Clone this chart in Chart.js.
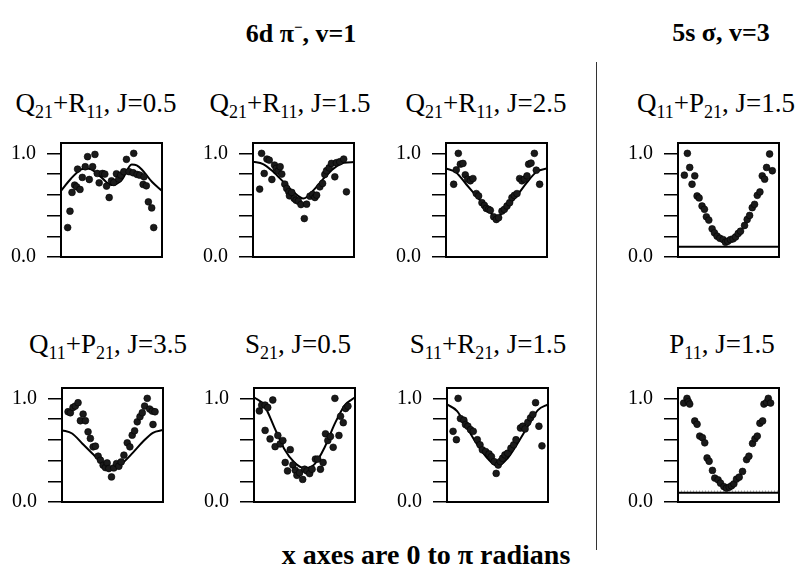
<!DOCTYPE html>
<html><head><meta charset="utf-8">
<script src="https://cdn.jsdelivr.net/npm/chart.js@4/dist/chart.umd.min.js"></script>
<style>
body{margin:0;background:#fff;width:807px;height:585px;position:relative;overflow:hidden;font-family:"Liberation Serif","Times New Roman",serif;color:#000}
canvas{position:absolute}
.t{position:absolute;transform:translateX(-50%);white-space:nowrap;font-size:27px;line-height:1}
.t sub{font-size:18px;vertical-align:-6px;line-height:0}
.h{position:absolute;transform:translateX(-50%);white-space:nowrap;font-size:26px;font-weight:bold;line-height:1}
#sep{position:absolute;left:596px;top:62px;width:0;height:488px;border-left:1.5px solid #333}
</style></head><body>
<div class="h" style="left:301px;top:20px">6d π<sup style="font-size:15px">−</sup>, v=1</div>
<div class="h" style="left:721px;top:20px">5s σ, v=3</div>
<div id="sep"></div>
<div class="t" style="left:96px;top:90px">Q<sub>21</sub>+R<sub>11</sub>, J=0.5</div>
<div class="t" style="left:290px;top:90px">Q<sub>21</sub>+R<sub>11</sub>, J=1.5</div>
<div class="t" style="left:486px;top:90px">Q<sub>21</sub>+R<sub>11</sub>, J=2.5</div>
<div class="t" style="left:716px;top:90px">Q<sub>11</sub>+P<sub>21</sub>, J=1.5</div>
<div class="t" style="left:108px;top:331px">Q<sub>11</sub>+P<sub>21</sub>, J=3.5</div>
<div class="t" style="left:298px;top:331px">S<sub>21</sub>, J=0.5</div>
<div class="t" style="left:488px;top:331px">S<sub>11</sub>+R<sub>21</sub>, J=1.5</div>
<div class="t" style="left:722px;top:331px">P<sub>11</sub>, J=1.5</div>
<div class="h" style="left:426px;top:541px;font-size:28px">x axes are 0 to π radians</div>
<canvas id="c1" width="165" height="138" style="left:0px;top:131px"></canvas>
<canvas id="c2" width="165" height="138" style="left:192px;top:131px"></canvas>
<canvas id="c3" width="165" height="138" style="left:385px;top:131px"></canvas>
<canvas id="c4" width="165" height="138" style="left:617px;top:131px"></canvas>
<canvas id="c5" width="165" height="138" style="left:1px;top:376px"></canvas>
<canvas id="c6" width="165" height="138" style="left:193px;top:376px"></canvas>
<canvas id="c7" width="165" height="138" style="left:386px;top:376px"></canvas>
<canvas id="c8" width="165" height="138" style="left:617px;top:376px"></canvas>
<script>
// x values are in units of π (0 … 1 ⇒ 0 … π radians)
const yTickLabels = {0: '0.0', 1: '1.0'};

// Panel 1: Q21+R11, J=0.5
const p1X = [0.066,0.089,0.109,0.135,0.155,0.188,0.164,0.211,0.240,0.263,0.280,0.313,0.336,0.359,0.378,0.411,0.434,0.451,0.477,0.500,0.523,0.549,0.572,0.592,0.622,0.648,0.674,0.714,0.720,0.753,0.780,0.813,0.822,0.845,0.865,0.898,0.918];
const p1Y = [0.284,0.442,0.623,0.694,0.677,0.652,0.848,0.768,0.871,0.968,0.748,0.871,0.990,0.806,0.716,0.806,0.800,0.684,0.574,0.735,0.719,0.803,0.752,0.790,0.823,0.942,0.823,0.813,1.000,0.797,0.790,0.700,0.774,0.687,0.532,0.474,0.284];
const p1CurveX = [0,0.1,0.2,0.25,0.3,0.4,0.5,0.6,0.7,0.75,0.8,0.9,1];
const p1CurveY = [0.639,0.758,0.845,0.855,0.845,0.768,0.694,0.742,0.893,0.885,0.845,0.726,0.639];

// Panel 2: Q21+R11, J=1.5
const p2X = [0.066,0.085,0.111,0.138,0.161,0.187,0.213,0.230,0.249,0.269,0.285,0.315,0.334,0.354,0.361,0.384,0.407,0.426,0.449,0.475,0.508,0.531,0.564,0.590,0.613,0.630,0.662,0.689,0.711,0.728,0.754,0.777,0.810,0.826,0.859,0.898,0.925];
const p2Y = [0.655,1.000,0.806,0.945,0.935,0.748,0.887,0.855,0.829,0.871,0.800,0.703,0.661,0.629,0.590,0.623,0.565,0.548,0.539,0.506,0.371,0.510,0.587,0.603,0.574,0.597,0.677,0.710,0.797,0.832,0.861,0.903,0.774,0.910,0.919,0.945,0.629];
const p2CurveX = [0,0.1,0.2,0.3,0.4,0.5,0.6,0.7,0.8,0.9,1];
const p2CurveY = [0.919,0.897,0.823,0.726,0.629,0.565,0.645,0.758,0.855,0.910,0.916];

// Panel 3: Q21+R11, J=2.5
const p3X = [0.076,0.102,0.122,0.142,0.168,0.191,0.215,0.241,0.267,0.300,0.323,0.356,0.380,0.399,0.422,0.439,0.472,0.498,0.521,0.554,0.578,0.604,0.630,0.653,0.677,0.703,0.729,0.752,0.776,0.802,0.818,0.842,0.875,0.894,0.927];
const p3Y = [0.702,0.841,1.000,0.896,0.903,0.793,0.751,0.735,0.757,0.612,0.589,0.524,0.498,0.469,0.460,0.450,0.388,0.362,0.379,0.443,0.460,0.492,0.524,0.573,0.595,0.612,0.757,0.735,0.751,0.783,0.896,0.906,1.000,0.838,0.702];
const p3CurveX = [0,0.1,0.2,0.3,0.4,0.5,0.6,0.7,0.8,0.9,1];
const p3CurveY = [0.854,0.816,0.702,0.589,0.476,0.385,0.476,0.589,0.718,0.825,0.854];

// Panel 4: Q11+P21, J=1.5
const p4X = [0.063,0.093,0.116,0.139,0.166,0.189,0.209,0.238,0.262,0.281,0.305,0.338,0.361,0.387,0.414,0.447,0.470,0.493,0.520,0.546,0.570,0.596,0.619,0.659,0.685,0.709,0.735,0.758,0.785,0.811,0.834,0.858,0.877,0.907,0.934];
const p4Y = [0.790,1.000,0.864,0.702,0.783,0.589,0.570,0.492,0.460,0.388,0.356,0.272,0.233,0.201,0.181,0.168,0.142,0.152,0.168,0.175,0.194,0.227,0.249,0.304,0.362,0.401,0.476,0.508,0.595,0.628,0.783,0.751,0.864,0.994,0.832];
const p4CurveX = [0,1];
const p4CurveY = [0.10,0.10];

// Panel 5: Q11+P21, J=3.5
const p5X = [0.060,0.083,0.109,0.132,0.159,0.182,0.209,0.232,0.258,0.281,0.308,0.331,0.358,0.381,0.407,0.430,0.447,0.464,0.490,0.513,0.540,0.563,0.586,0.613,0.646,0.672,0.695,0.719,0.745,0.772,0.795,0.818,0.844,0.868,0.894,0.921,0.901];
const p5Y = [0.871,0.861,0.913,0.926,0.958,0.784,0.848,0.784,0.677,0.613,0.532,0.539,0.442,0.403,0.355,0.332,0.377,0.323,0.242,0.329,0.371,0.345,0.387,0.452,0.571,0.532,0.645,0.687,0.774,0.823,0.861,0.926,1.000,0.897,0.877,0.871,0.748];
const p5CurveX = [0,0.1,0.2,0.3,0.4,0.5,0.6,0.7,0.8,0.9,1];
const p5CurveY = [0.694,0.661,0.565,0.468,0.377,0.323,0.377,0.474,0.581,0.668,0.694];

// Panel 6: S21, J=0.5
const p6X = [0.053,0.076,0.110,0.136,0.110,0.159,0.186,0.209,0.236,0.259,0.286,0.309,0.332,0.359,0.385,0.409,0.425,0.452,0.482,0.502,0.525,0.551,0.575,0.608,0.631,0.658,0.684,0.708,0.731,0.757,0.784,0.801,0.841,0.857,0.884,0.907,0.930];
const p6Y = [0.879,0.935,0.935,0.912,0.691,0.609,0.984,0.534,0.642,0.560,0.593,0.381,0.300,0.505,0.358,0.306,0.257,0.283,0.218,0.316,0.300,0.274,0.316,0.414,0.414,0.316,0.381,0.658,0.593,0.632,0.528,1.000,0.642,0.827,0.765,0.902,0.925];
const p6CurveX = [0,0.1,0.2,0.3,0.4,0.5,0.6,0.7,0.8,0.9,1];
const p6CurveY = [1.01,0.935,0.723,0.511,0.381,0.326,0.365,0.528,0.756,0.935,1.01];

// Panel 7: S11+R21, J=1.5
const p7X = [0.060,0.093,0.110,0.133,0.167,0.183,0.207,0.233,0.260,0.300,0.327,0.350,0.383,0.417,0.440,0.467,0.487,0.507,0.527,0.550,0.573,0.600,0.633,0.660,0.683,0.727,0.750,0.773,0.800,0.827,0.850,0.877,0.910,0.940];
const p7Y = [0.682,0.601,1.000,0.805,0.789,0.747,0.731,0.698,0.682,0.601,0.552,0.503,0.487,0.464,0.438,0.390,0.276,0.357,0.390,0.422,0.455,0.471,0.519,0.552,0.601,0.714,0.731,0.705,0.769,0.812,0.844,0.958,0.731,0.542];
const p7CurveX = [0,0.1,0.2,0.3,0.4,0.5,0.6,0.7,0.8,0.9,1];
const p7CurveY = [0.942,0.877,0.714,0.552,0.422,0.347,0.422,0.568,0.730,0.886,0.942];

// Panel 8: P11, J=1.5
const p8X = [0.056,0.089,0.103,0.116,0.166,0.189,0.215,0.242,0.265,0.288,0.308,0.341,0.364,0.397,0.421,0.454,0.480,0.507,0.530,0.553,0.579,0.606,0.639,0.679,0.702,0.738,0.762,0.785,0.811,0.838,0.851,0.877,0.894,0.917];
const p8Y = [0.955,1.000,0.968,0.945,0.782,0.750,0.636,0.620,0.571,0.425,0.393,0.305,0.231,0.214,0.182,0.149,0.133,0.143,0.156,0.175,0.221,0.240,0.295,0.409,0.442,0.565,0.610,0.636,0.760,0.782,0.945,0.961,1.000,0.955];
const p8CurveX = [0,1];
const p8CurveY = [0.09,0.09];
const p8DotX = [0,1];
const p8DotY = [0.105,0.105];

function pts(xs, ys){ return xs.map((x,i)=>({x:x, y:ys[i]})); }

const framePlugin = {
  id:'frame',
  afterDatasetsDraw(chart){
    const a = chart.chartArea, ctx = chart.ctx;
    ctx.save();
    ctx.strokeStyle = '#000';
    ctx.lineWidth = 2;
    ctx.strokeRect(a.left, a.top, a.right - a.left, a.bottom - a.top);
    ctx.restore();
  }
};

function panel(id, xs, ys, cx, cy, extra){
  const datasets = [
    {type:'line', data: pts(cx, cy), borderColor:'#000', borderWidth:2, pointRadius:0, fill:false, cubicInterpolationMode:'monotone', order:2},
    {type:'scatter', data: pts(xs, ys), backgroundColor:'#1a1a1a', borderColor:'#000', borderWidth:0.6, pointRadius:3.4, order:1}
  ];
  if (extra) datasets.push(extra);
  new Chart(document.getElementById(id), {
    data:{datasets},
    plugins:[framePlugin],
    options:{
      responsive:false, animation:false, devicePixelRatio:1,
      layout:{autoPadding:false, padding:{left:0,right:3,top:12,bottom:12}},
      plugins:{legend:{display:false}, tooltip:{enabled:false}},
      scales:{
        x:{type:'linear', min:0, max:1, display:false},
        y:{type:'linear', min:0, max:1.1,
           afterFit(s){ s.width = 61; s.paddingTop = 0; s.paddingBottom = 0; },
           border:{display:false},
           grid:{drawOnChartArea:false, drawTicks:true, tickLength:14, color:'#000', lineWidth:1.5},
           ticks:{stepSize:0.2, includeBounds:false, autoSkip:false, padding:11, color:'#000',
                  font:{family:'Liberation Serif', size:20},
                  callback(v){ for (const k in yTickLabels){ if (Math.abs(v - Number(k)) < 1e-6) return yTickLabels[k]; } return ''; }}
        }
      }
    }
  });
}

panel('c1', p1X, p1Y, p1CurveX, p1CurveY);
panel('c2', p2X, p2Y, p2CurveX, p2CurveY);
panel('c3', p3X, p3Y, p3CurveX, p3CurveY);
panel('c4', p4X, p4Y, p4CurveX, p4CurveY);
panel('c5', p5X, p5Y, p5CurveX, p5CurveY);
panel('c6', p6X, p6Y, p6CurveX, p6CurveY);
panel('c7', p7X, p7Y, p7CurveX, p7CurveY);
panel('c8', p8X, p8Y, p8CurveX, p8CurveY,
  {type:'line', data: pts(p8DotX, p8DotY), borderColor:'#888', borderWidth:1, borderDash:[1,2], pointRadius:0, order:3});
</script>
</body></html>
